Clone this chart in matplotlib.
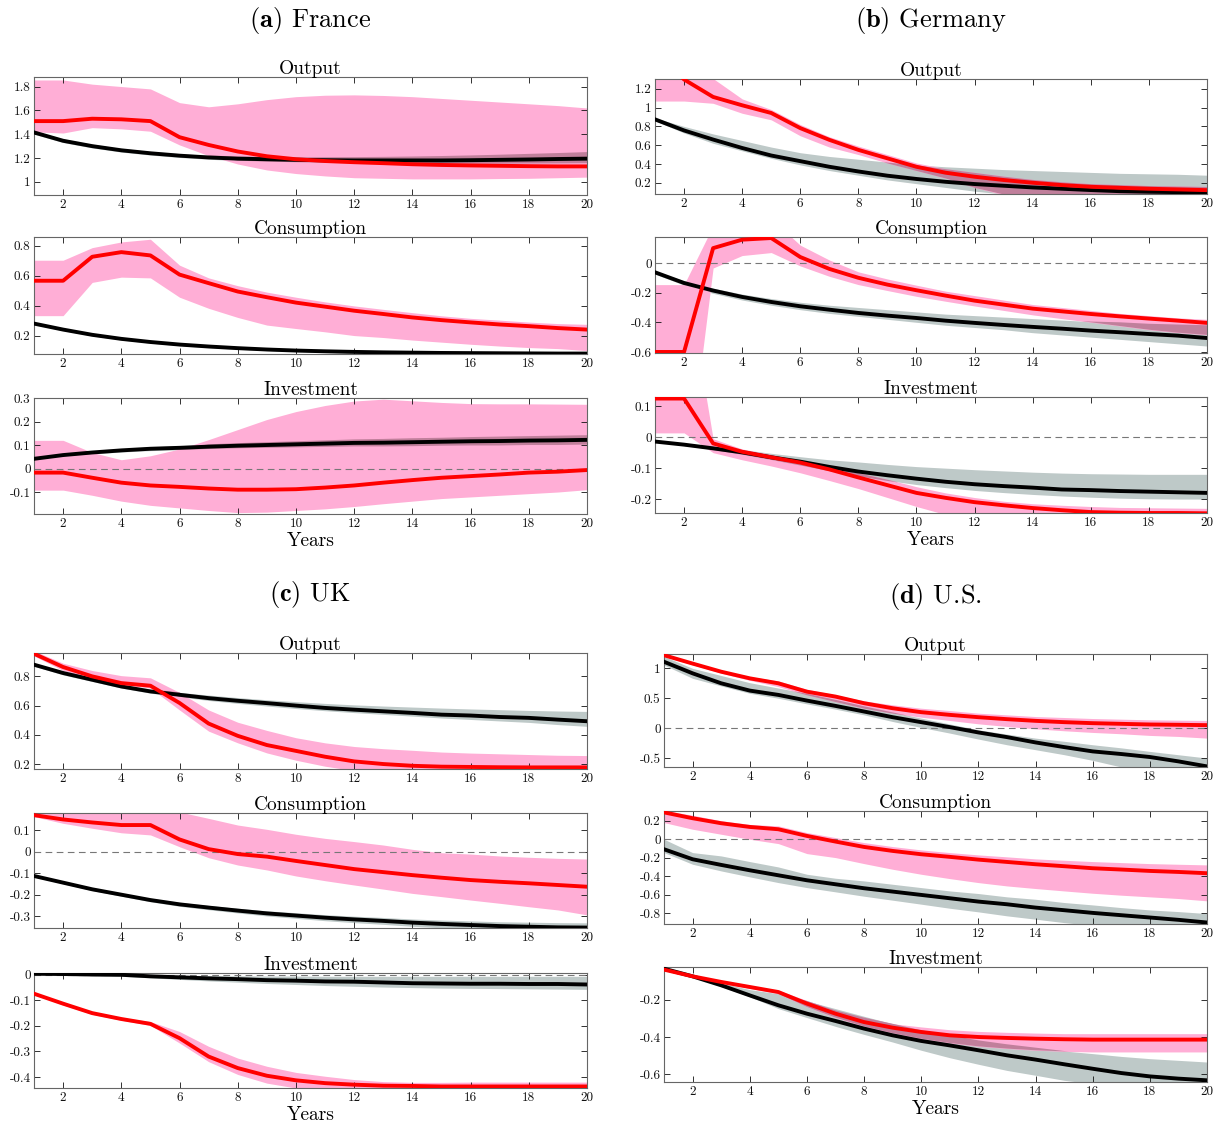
import numpy as np
import matplotlib
matplotlib.use("Agg")
import matplotlib.pyplot as plt
from matplotlib.ticker import MultipleLocator, FuncFormatter

plt.rcParams.update({
    "font.family": "cmr10", "mathtext.fontset": "cm",
    "axes.unicode_minus": False, "axes.linewidth": 0.8,
    "xtick.direction": "in", "ytick.direction": "in",
})

YEARS = np.arange(1, 21)

# ---- France --------------------------------------------------------------
FR_Y     = [1.51, 1.51, 1.53, 1.525, 1.51, 1.375, 1.31, 1.255, 1.215, 1.19, 1.175, 1.165, 1.157, 1.148, 1.142, 1.138, 1.135, 1.132, 1.13, 1.13]
FR_Y_LO  = [1.42, 1.41, 1.455, 1.445, 1.425, 1.31, 1.22, 1.15, 1.10, 1.07, 1.05, 1.035, 1.03, 1.025, 1.025, 1.025, 1.028, 1.03, 1.035, 1.04]
FR_Y_HI  = [1.855, 1.855, 1.82, 1.80, 1.78, 1.665, 1.63, 1.655, 1.69, 1.715, 1.727, 1.73, 1.725, 1.715, 1.70, 1.685, 1.67, 1.655, 1.64, 1.62]
FR_Y_M   = [1.415, 1.345, 1.30, 1.265, 1.24, 1.22, 1.205, 1.195, 1.19, 1.185, 1.182, 1.18, 1.18, 1.18, 1.18, 1.182, 1.185, 1.188, 1.192, 1.195]
FR_Y_MLO = [1.40, 1.33, 1.285, 1.25, 1.225, 1.205, 1.19, 1.178, 1.17, 1.165, 1.16, 1.157, 1.155, 1.153, 1.152, 1.152, 1.153, 1.154, 1.155, 1.157]
FR_Y_MHI = [1.43, 1.36, 1.315, 1.28, 1.255, 1.237, 1.222, 1.213, 1.21, 1.207, 1.207, 1.208, 1.21, 1.213, 1.217, 1.222, 1.228, 1.235, 1.242, 1.25]

FR_C     = [0.566, 0.566, 0.726, 0.757, 0.735, 0.607, 0.55, 0.494, 0.456, 0.42, 0.393, 0.366, 0.344, 0.321, 0.303, 0.288, 0.274, 0.263, 0.25, 0.24]
FR_C_LO  = [0.333, 0.333, 0.555, 0.59, 0.585, 0.456, 0.382, 0.321, 0.27, 0.247, 0.225, 0.2, 0.187, 0.17, 0.156, 0.142, 0.13, 0.12, 0.113, 0.10]
FR_C_HI  = [0.703, 0.703, 0.787, 0.825, 0.843, 0.67, 0.585, 0.533, 0.49, 0.456, 0.425, 0.398, 0.375, 0.353, 0.332, 0.315, 0.303, 0.29, 0.28, 0.275]
FR_C_M   = [0.28, 0.24, 0.205, 0.178, 0.157, 0.14, 0.127, 0.116, 0.107, 0.1, 0.095, 0.091, 0.088, 0.086, 0.084, 0.083, 0.082, 0.081, 0.08, 0.08]
FR_C_MLO = [0.273, 0.233, 0.198, 0.171, 0.15, 0.133, 0.12, 0.109, 0.1, 0.093, 0.087, 0.083, 0.08, 0.077, 0.075, 0.073, 0.072, 0.07, 0.069, 0.068]
FR_C_MHI = [0.287, 0.247, 0.212, 0.185, 0.164, 0.147, 0.134, 0.123, 0.114, 0.107, 0.102, 0.098, 0.095, 0.093, 0.092, 0.091, 0.09, 0.09, 0.089, 0.089]

FR_I     = [-0.017, -0.017, -0.039, -0.06, -0.072, -0.078, -0.085, -0.09, -0.09, -0.088, -0.081, -0.072, -0.06, -0.049, -0.039, -0.032, -0.025, -0.017, -0.013, -0.006]
FR_I_LO  = [-0.092, -0.092, -0.114, -0.139, -0.157, -0.168, -0.179, -0.188, -0.186, -0.179, -0.172, -0.162, -0.15, -0.139, -0.128, -0.121, -0.114, -0.107, -0.1, -0.09]
FR_I_HI  = [0.121, 0.121, 0.069, 0.038, 0.055, 0.084, 0.124, 0.167, 0.21, 0.244, 0.27, 0.289, 0.297, 0.29, 0.283, 0.278, 0.277, 0.277, 0.276, 0.275]
FR_I_M   = [0.042, 0.058, 0.069, 0.078, 0.085, 0.089, 0.094, 0.098, 0.101, 0.104, 0.107, 0.11, 0.111, 0.113, 0.115, 0.117, 0.118, 0.12, 0.121, 0.123]
FR_I_MLO = [0.038, 0.053, 0.063, 0.071, 0.077, 0.08, 0.084, 0.087, 0.089, 0.091, 0.093, 0.095, 0.095, 0.096, 0.098, 0.099, 0.099, 0.101, 0.101, 0.103]
FR_I_MHI = [0.046, 0.063, 0.075, 0.085, 0.093, 0.098, 0.104, 0.109, 0.113, 0.117, 0.121, 0.125, 0.127, 0.13, 0.132, 0.135, 0.137, 0.139, 0.141, 0.143]

# ---- Germany -------------------------------------------------------------
DE_Y     = [1.6, 1.30, 1.114, 1.025, 0.943, 0.782, 0.657, 0.55, 0.46, 0.37, 0.307, 0.264, 0.229, 0.2, 0.175, 0.157, 0.146, 0.136, 0.129, 0.121]
DE_Y_LO  = [1.07, 1.07, 1.046, 0.94, 0.87, 0.70, 0.58, 0.50, 0.41, 0.33, 0.25, 0.15, 0.07, 0.04, 0.03, 0.02, 0.02, 0.02, 0.02, 0.02]
DE_Y_HI  = [1.7, 1.6, 1.31, 1.093, 0.98, 0.82, 0.69, 0.59, 0.50, 0.41, 0.35, 0.31, 0.27, 0.235, 0.21, 0.19, 0.18, 0.17, 0.165, 0.16]
DE_Y_M   = [0.875, 0.757, 0.66, 0.57, 0.49, 0.43, 0.37, 0.32, 0.275, 0.24, 0.21, 0.186, 0.168, 0.15, 0.136, 0.122, 0.11, 0.104, 0.10, 0.10]
DE_Y_MLO = [0.86, 0.73, 0.62, 0.54, 0.46, 0.39, 0.33, 0.28, 0.23, 0.19, 0.15, 0.11, 0.08, 0.06, 0.04, 0.03, 0.02, 0.01, 0.0, 0.0]
DE_Y_MHI = [0.89, 0.80, 0.72, 0.65, 0.58, 0.52, 0.48, 0.45, 0.42, 0.39, 0.37, 0.355, 0.34, 0.33, 0.32, 0.31, 0.30, 0.295, 0.29, 0.28]

DE_C     = [-0.6, -0.6, 0.10, 0.157, 0.168, 0.04, -0.04, -0.10, -0.146, -0.184, -0.22, -0.254, -0.281, -0.308, -0.326, -0.344, -0.36, -0.375, -0.389, -0.404]
DE_C_LO  = [-1.6, -1.6, -0.034, 0.05, 0.07, -0.02, -0.09, -0.146, -0.186, -0.225, -0.258, -0.29, -0.32, -0.35, -0.375, -0.40, -0.425, -0.45, -0.47, -0.485]
DE_C_HI  = [-0.146, -0.146, 0.25, 0.30, 0.30, 0.12, 0.02, -0.06, -0.108, -0.15, -0.19, -0.22, -0.25, -0.28, -0.30, -0.32, -0.34, -0.355, -0.37, -0.38]
DE_C_M   = [-0.063, -0.135, -0.186, -0.229, -0.263, -0.292, -0.315, -0.337, -0.355, -0.371, -0.389, -0.404, -0.418, -0.431, -0.443, -0.456, -0.467, -0.479, -0.49, -0.506]
DE_C_MLO = [-0.075, -0.15, -0.205, -0.25, -0.285, -0.315, -0.34, -0.36, -0.38, -0.40, -0.42, -0.435, -0.45, -0.47, -0.485, -0.50, -0.515, -0.53, -0.545, -0.56]
DE_C_MHI = [-0.055, -0.12, -0.17, -0.21, -0.24, -0.265, -0.285, -0.30, -0.315, -0.33, -0.345, -0.355, -0.365, -0.375, -0.385, -0.395, -0.40, -0.41, -0.415, -0.42]

DE_I     = [0.125, 0.125, -0.02, -0.047, -0.065, -0.082, -0.104, -0.13, -0.155, -0.18, -0.196, -0.21, -0.22, -0.229, -0.236, -0.242, -0.244, -0.245, -0.245, -0.246]
DE_I_LO  = [0.014, 0.014, -0.05, -0.073, -0.093, -0.115, -0.14, -0.166, -0.195, -0.224, -0.25, -0.268, -0.28, -0.29, -0.297, -0.302, -0.305, -0.307, -0.308, -0.31]
DE_I_HI  = [0.56, 0.56, -0.005, -0.038, -0.056, -0.076, -0.096, -0.115, -0.136, -0.16, -0.18, -0.195, -0.207, -0.215, -0.22, -0.224, -0.227, -0.228, -0.229, -0.23]
DE_I_M   = [-0.014, -0.024, -0.036, -0.049, -0.065, -0.079, -0.096, -0.111, -0.123, -0.134, -0.144, -0.152, -0.158, -0.163, -0.169, -0.171, -0.174, -0.176, -0.178, -0.18]
DE_I_MLO = [-0.016, -0.027, -0.04, -0.055, -0.072, -0.09, -0.108, -0.125, -0.14, -0.153, -0.163, -0.172, -0.179, -0.185, -0.19, -0.194, -0.197, -0.199, -0.2, -0.2]
DE_I_MHI = [-0.012, -0.02, -0.03, -0.04, -0.052, -0.063, -0.073, -0.08, -0.088, -0.095, -0.1, -0.105, -0.109, -0.113, -0.116, -0.118, -0.119, -0.12, -0.12, -0.12]

# ---- UK ------------------------------------------------------------------
UK_Y     = [0.955, 0.864, 0.80, 0.754, 0.736, 0.618, 0.477, 0.393, 0.33, 0.29, 0.25, 0.218, 0.20, 0.188, 0.182, 0.18, 0.178, 0.177, 0.177, 0.177]
UK_Y_LO  = [0.94, 0.84, 0.777, 0.743, 0.72, 0.57, 0.425, 0.345, 0.276, 0.226, 0.185, 0.155, 0.15, 0.15, 0.15, 0.15, 0.15, 0.15, 0.15, 0.15]
UK_Y_HI  = [0.975, 0.89, 0.84, 0.805, 0.79, 0.69, 0.57, 0.486, 0.43, 0.38, 0.345, 0.32, 0.305, 0.294, 0.282, 0.275, 0.27, 0.265, 0.26, 0.258]
UK_Y_M   = [0.88, 0.823, 0.777, 0.731, 0.697, 0.674, 0.651, 0.633, 0.617, 0.60, 0.584, 0.572, 0.561, 0.55, 0.538, 0.532, 0.522, 0.516, 0.504, 0.493]
UK_Y_MLO = [0.87, 0.81, 0.765, 0.72, 0.685, 0.66, 0.635, 0.615, 0.597, 0.58, 0.565, 0.552, 0.54, 0.528, 0.515, 0.505, 0.495, 0.485, 0.47, 0.458]
UK_Y_MHI = [0.89, 0.835, 0.79, 0.745, 0.712, 0.69, 0.672, 0.655, 0.64, 0.627, 0.615, 0.605, 0.597, 0.59, 0.583, 0.577, 0.572, 0.567, 0.563, 0.56]

UK_C     = [0.17, 0.15, 0.136, 0.124, 0.124, 0.057, 0.012, -0.011, -0.023, -0.043, -0.062, -0.081, -0.095, -0.109, -0.121, -0.132, -0.14, -0.147, -0.155, -0.163]
UK_C_LO  = [0.163, 0.132, 0.109, 0.088, 0.078, 0.023, -0.028, -0.062, -0.085, -0.113, -0.135, -0.155, -0.174, -0.194, -0.209, -0.225, -0.24, -0.256, -0.271, -0.294]
UK_C_HI  = [0.19, 0.19, 0.19, 0.19, 0.19, 0.185, 0.155, 0.124, 0.104, 0.081, 0.062, 0.047, 0.031, 0.011, -0.005, -0.011, -0.02, -0.026, -0.031, -0.034]
UK_C_M   = [-0.113, -0.144, -0.175, -0.2, -0.225, -0.245, -0.26, -0.274, -0.287, -0.297, -0.307, -0.315, -0.322, -0.33, -0.336, -0.341, -0.346, -0.349, -0.352, -0.353]
UK_C_MLO = [-0.117, -0.149, -0.181, -0.207, -0.233, -0.254, -0.27, -0.285, -0.299, -0.31, -0.321, -0.33, -0.338, -0.347, -0.354, -0.36, -0.366, -0.37, -0.374, -0.375]
UK_C_MHI = [-0.109, -0.139, -0.169, -0.193, -0.217, -0.236, -0.25, -0.263, -0.275, -0.284, -0.293, -0.3, -0.306, -0.313, -0.318, -0.322, -0.326, -0.328, -0.33, -0.331]

UK_I     = [-0.074, -0.113, -0.15, -0.173, -0.192, -0.248, -0.32, -0.365, -0.395, -0.413, -0.424, -0.43, -0.434, -0.435, -0.437, -0.437, -0.437, -0.437, -0.437, -0.437]
UK_I_LO  = [-0.078, -0.118, -0.155, -0.178, -0.198, -0.267, -0.34, -0.39, -0.424, -0.443, -0.45, -0.45, -0.448, -0.447, -0.446, -0.446, -0.446, -0.446, -0.446, -0.446]
UK_I_HI  = [-0.07, -0.108, -0.145, -0.168, -0.183, -0.222, -0.28, -0.326, -0.358, -0.382, -0.397, -0.41, -0.418, -0.421, -0.421, -0.42, -0.42, -0.42, -0.42, -0.42]
UK_I_M   = [0.004, 0.003, 0.001, 0.0, -0.006, -0.01, -0.014, -0.017, -0.021, -0.023, -0.026, -0.027, -0.03, -0.033, -0.034, -0.035, -0.035, -0.036, -0.036, -0.038]
UK_I_MLO = [0.002, 0.0, -0.003, -0.006, -0.012, -0.018, -0.024, -0.029, -0.034, -0.038, -0.042, -0.045, -0.048, -0.05, -0.052, -0.053, -0.054, -0.055, -0.056, -0.057]
UK_I_MHI = [0.006, 0.005, 0.004, 0.003, 0.0, -0.002, -0.003, -0.004, -0.005, -0.005, -0.006, -0.006, -0.006, -0.006, -0.006, -0.006, -0.006, -0.006, -0.006, -0.006]

# ---- U.S. ----------------------------------------------------------------
US_Y     = [1.22, 1.08, 0.944, 0.833, 0.75, 0.61, 0.528, 0.417, 0.333, 0.267, 0.222, 0.183, 0.15, 0.122, 0.10, 0.083, 0.072, 0.061, 0.056, 0.05]
US_Y_LO  = [1.20, 1.06, 0.92, 0.80, 0.694, 0.556, 0.444, 0.333, 0.25, 0.183, 0.128, 0.072, 0.028, -0.011, -0.044, -0.072, -0.094, -0.122, -0.139, -0.167]
US_Y_HI  = [1.25, 1.10, 0.97, 0.86, 0.79, 0.65, 0.556, 0.456, 0.39, 0.333, 0.294, 0.25, 0.222, 0.194, 0.178, 0.161, 0.15, 0.139, 0.133, 0.128]
US_Y_M   = [1.11, 0.917, 0.75, 0.628, 0.556, 0.461, 0.372, 0.278, 0.183, 0.10, 0.017, -0.072, -0.15, -0.239, -0.317, -0.389, -0.433, -0.483, -0.556, -0.64]
US_Y_MLO = [1.056, 0.833, 0.706, 0.583, 0.50, 0.406, 0.317, 0.222, 0.111, 0.011, -0.083, -0.183, -0.278, -0.361, -0.444, -0.539, -0.65, -0.72, -0.76, -0.8]
US_Y_MHI = [1.2, 1.0, 0.88, 0.76, 0.67, 0.583, 0.48, 0.372, 0.27, 0.167, 0.07, -0.028, -0.10, -0.167, -0.22, -0.278, -0.33, -0.389, -0.445, -0.50]

US_C     = [0.29, 0.227, 0.173, 0.133, 0.108, 0.036, -0.025, -0.083, -0.126, -0.162, -0.19, -0.22, -0.245, -0.27, -0.291, -0.313, -0.327, -0.342, -0.353, -0.367]
US_C_LO  = [0.18, 0.108, 0.054, 0.0, -0.047, -0.155, -0.198, -0.263, -0.324, -0.378, -0.425, -0.468, -0.504, -0.532, -0.558, -0.583, -0.604, -0.622, -0.64, -0.665]
US_C_HI  = [0.31, 0.26, 0.20, 0.16, 0.144, 0.072, 0.018, -0.036, -0.079, -0.115, -0.144, -0.169, -0.19, -0.212, -0.227, -0.241, -0.252, -0.263, -0.27, -0.277]
US_C_M   = [-0.108, -0.216, -0.277, -0.335, -0.389, -0.443, -0.486, -0.529, -0.565, -0.601, -0.637, -0.673, -0.702, -0.738, -0.766, -0.795, -0.82, -0.845, -0.87, -0.899]
US_C_MLO = [-0.144, -0.27, -0.342, -0.406, -0.468, -0.522, -0.568, -0.615, -0.658, -0.701, -0.745, -0.784, -0.827, -0.863, -0.9, -0.93, -0.95, -0.97, -0.99, -1.0]
US_C_MHI = [0.0, -0.144, -0.18, -0.241, -0.299, -0.378, -0.421, -0.45, -0.486, -0.522, -0.558, -0.586, -0.622, -0.648, -0.683, -0.709, -0.738, -0.763, -0.781, -0.802]

US_I     = [-0.039, -0.075, -0.105, -0.132, -0.159, -0.221, -0.275, -0.32, -0.35, -0.373, -0.391, -0.40, -0.405, -0.409, -0.412, -0.414, -0.414, -0.414, -0.414, -0.414]
US_I_LO  = [-0.043, -0.08, -0.11, -0.14, -0.168, -0.239, -0.296, -0.343, -0.379, -0.409, -0.432, -0.45, -0.462, -0.471, -0.477, -0.48, -0.48, -0.48, -0.48, -0.48]
US_I_HI  = [-0.035, -0.07, -0.10, -0.125, -0.15, -0.204, -0.257, -0.296, -0.329, -0.346, -0.361, -0.37, -0.375, -0.379, -0.382, -0.382, -0.382, -0.382, -0.382, -0.382]
US_I_M   = [-0.034, -0.075, -0.123, -0.177, -0.23, -0.275, -0.314, -0.355, -0.391, -0.421, -0.445, -0.471, -0.498, -0.521, -0.546, -0.57, -0.593, -0.611, -0.623, -0.632]
US_I_MLO = [-0.038, -0.078, -0.13, -0.184, -0.248, -0.296, -0.343, -0.386, -0.427, -0.471, -0.511, -0.546, -0.579, -0.605, -0.632, -0.65, -0.67, -0.69, -0.70, -0.71]
US_I_MHI = [-0.03, -0.072, -0.11, -0.146, -0.168, -0.207, -0.248, -0.289, -0.329, -0.364, -0.391, -0.418, -0.439, -0.457, -0.475, -0.489, -0.504, -0.516, -0.525, -0.534]

VARS = ["Output", "Consumption", "Investment"]
PANELS = [
    (r"$\mathbf{(a)}$ France", [
        (FR_Y, FR_Y_LO, FR_Y_HI, FR_Y_M, FR_Y_MLO, FR_Y_MHI),
        (FR_C, FR_C_LO, FR_C_HI, FR_C_M, FR_C_MLO, FR_C_MHI),
        (FR_I, FR_I_LO, FR_I_HI, FR_I_M, FR_I_MLO, FR_I_MHI)]),
    (r"$\mathbf{(b)}$ Germany", [
        (DE_Y, DE_Y_LO, DE_Y_HI, DE_Y_M, DE_Y_MLO, DE_Y_MHI),
        (DE_C, DE_C_LO, DE_C_HI, DE_C_M, DE_C_MLO, DE_C_MHI),
        (DE_I, DE_I_LO, DE_I_HI, DE_I_M, DE_I_MLO, DE_I_MHI)]),
    (r"$\mathbf{(c)}$ UK", [
        (UK_Y, UK_Y_LO, UK_Y_HI, UK_Y_M, UK_Y_MLO, UK_Y_MHI),
        (UK_C, UK_C_LO, UK_C_HI, UK_C_M, UK_C_MLO, UK_C_MHI),
        (UK_I, UK_I_LO, UK_I_HI, UK_I_M, UK_I_MLO, UK_I_MHI)]),
    (r"$\mathbf{(d)}$ U.S.", [
        (US_Y, US_Y_LO, US_Y_HI, US_Y_M, US_Y_MLO, US_Y_MHI),
        (US_C, US_C_LO, US_C_HI, US_C_M, US_C_MLO, US_C_MHI),
        (US_I, US_I_LO, US_I_HI, US_I_M, US_I_MLO, US_I_MHI)]),
]

# y range and tick step of every small panel
YLIMS = [
    [(0.89, 1.88, 0.2), (0.077, 0.858, 0.2), (-0.194, 0.302, 0.1)],
    [(0.08, 1.305, 0.2), (-0.607, 0.175, 0.2), (-0.245, 0.13, 0.1)],
    [(0.166, 0.96, 0.2), (-0.355, 0.18, 0.1), (-0.443, 0.007, 0.1)],
    [(-0.65, 1.24, 0.5), (-0.915, 0.305, 0.2), (-0.641, -0.025, 0.2)],
]

# layout in pixels: columns (left, right), rows (top, bottom)
W, H = 1224, 1124
COLS = [(34, 587), (655, 1207), (34, 587), (664, 1207)]
ROWS = [
    [(77, 195), (237, 354), (398, 514)],
    [(79, 194), (237, 353), (397, 513)],
    [(653, 769), (813, 928), (973, 1088)],
    [(654, 767), (811, 924), (967, 1082)],
]
HEAD_Y = [20, 20, 595, 597]

PINK = "#ffaed6"
GREY = "#bec9c8"
MAUVE = "#c07f9b"

fig = plt.figure(figsize=(W / 100, H / 100), dpi=100)

for p, (head, series) in enumerate(PANELS):
    x0, x1 = COLS[p]
    fig.text((x0 + x1) / 2 / W, 1 - HEAD_Y[p] / H, head, ha="center",
             va="center", fontsize=19)
    for r, (irf, lo, hi, m, mlo, mhi) in enumerate(series):
        top, bot = ROWS[p][r]
        ax = fig.add_axes([x0 / W, 1 - bot / H, (x1 - x0) / W, (bot - top) / H])
        lo, hi, mlo, mhi = map(np.asarray, (lo, hi, mlo, mhi))
        ax.fill_between(YEARS, mlo, mhi, color=GREY, lw=0, zorder=1)
        ax.fill_between(YEARS, lo, hi, color=PINK, lw=0, zorder=1.5)
        # where the two bands overlap the colour gets darker
        olo = np.maximum(lo, mlo)
        ohi = np.minimum(hi, mhi)
        ax.fill_between(YEARS, olo, ohi, where=ohi > olo, interpolate=True,
                        color=MAUVE, lw=0, zorder=1.7)
        ax.axhline(0, color="#777777", lw=0.8, dashes=(6, 4), zorder=2)
        ax.plot(YEARS, m, color="black", lw=2.8, zorder=3)
        ax.plot(YEARS, irf, color="#ff0000", lw=2.8, zorder=4)

        y0, y1, step = YLIMS[p][r]
        ax.set_xlim(1, 20)
        ax.set_ylim(y0, y1)
        ax.xaxis.set_major_locator(MultipleLocator(2))
        ax.yaxis.set_major_locator(MultipleLocator(step))
        ax.yaxis.set_major_formatter(FuncFormatter(lambda v, _: f"{v:g}" if abs(v) > 1e-9 else "0"))
        ax.tick_params(top=True, right=True, length=4, width=0.6,
                       labelsize=9.5, pad=2.5, colors="#111111")
        for s in ax.spines.values():
            s.set_color("#666666")
            s.set_linewidth(0.8)
        ax.set_title(VARS[r], fontsize=14, pad=2)
        if r == 2:
            ax.set_xlabel("Years", fontsize=14, labelpad=2)

fig.savefig("out.png", dpi=100)
